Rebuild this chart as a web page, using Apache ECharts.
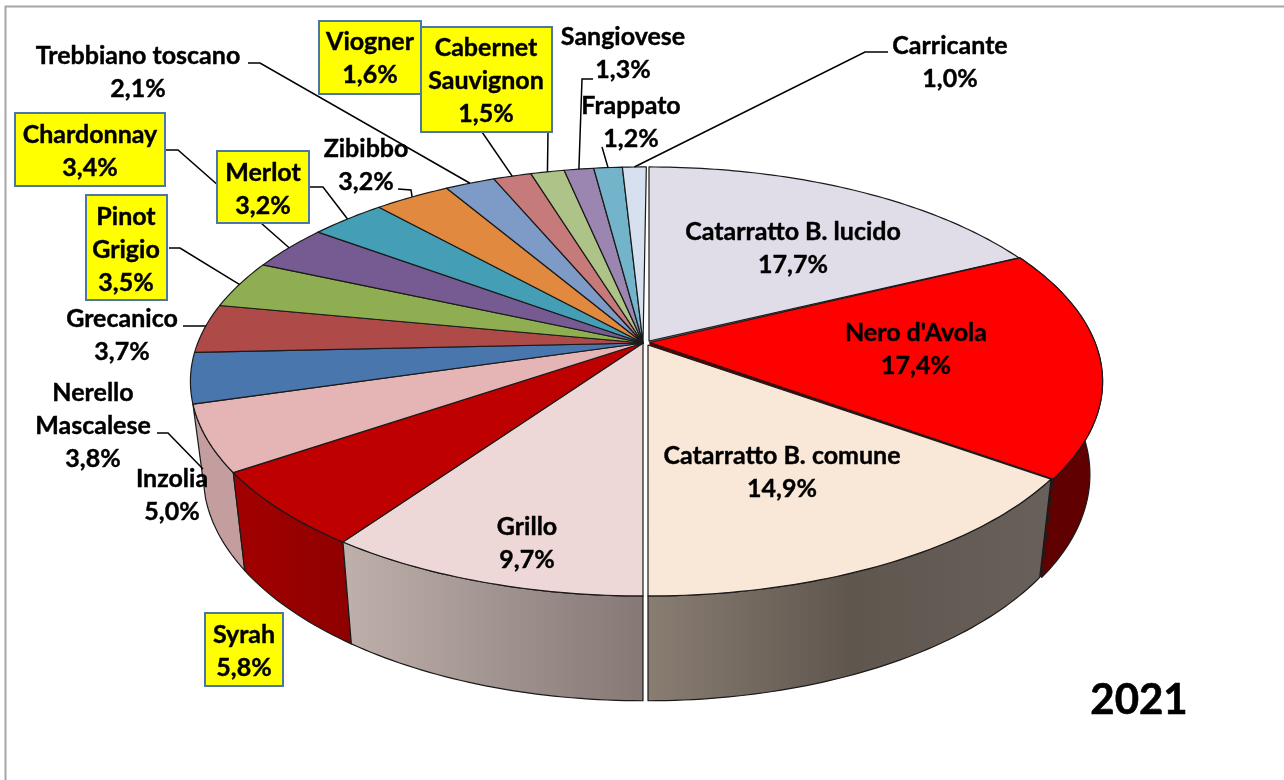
<!DOCTYPE html>
<html>
<head>
<meta charset="utf-8">
<title>Vitigni 2021</title>
<script src="https://cdn.jsdelivr.net/npm/echarts@6/dist/echarts.min.js"></script>
<style>
html, body { margin: 0; padding: 0; background: #fff; }
#chart { width: 1284px; height: 780px; }
</style>
</head>
<body>
<div id="chart"></div>
<script>
// chart data, clockwise from the top of the pie
const varieties = ['Catarratto B. lucido', "Nero d'Avola", 'Catarratto B. comune', 'Grillo', 'Syrah', 'Inzolia',
  'Nerello\nMascalese', 'Grecanico', 'Pinot\nGrigio', 'Chardonnay', 'Merlot', 'Zibibbo', 'Trebbiano toscano',
  'Viogner', 'Cabernet\nSauvignon', 'Sangiovese', 'Frappato', 'Carricante'];
const shares = [17.7, 17.4, 14.9, 9.7, 5.8, 5.0, 3.8, 3.7, 3.5, 3.4, 3.2, 3.2, 2.1, 1.6, 1.5, 1.3, 1.2, 1.0];
const yearLabel = '2021';

// styles
const sliceColors = ['#e0dce8', '#ff0000', '#f9e8d8', '#eed8d7', '#bf0000', '#e4b5b4', '#4a76ae', '#ae4a48', '#8fae52',
  '#765b93', '#449fb6', '#e18a3f', '#7e9bc7', '#c67a7a', '#aec387', '#9a86b1', '#73b4ca', '#d6e0ee'];
// only the slices at the front show their side, colours left to right
const wallColors = {
  1: ['#600000', '#600000'],
  2: ['#8a7e73', '#5f564e', '#68605a'],
  3: ['#bfb0ab', '#857875'],
  4: ['#a30000', '#8f0000'],
  5: ['#c49e9e', '#c49e9e']
};
const wallOrder = [1, 2, 5, 4, 3];
// coloured sliver seen in the gap after a slice
const gapColors = { 0: '#6b6b70', 1: '#5a0000' };
// the three big slices are pulled slightly away from the rest
const sliceApex = [[649, 341], [650, 342.5], [648, 345]];
const otherApex = [643, 343];
// small angle corrections (degrees) on the slice boundaries, the 3d view skews them
const boundaryShift = { 0: 0, 1: -0.5, 2: -0.9, 3: 0, 9: 0.9, 10: 1.0, 11: 1.0, 12: 1.0, 13: 1.0, 14: 1.0, 15: 0.7 };
const restShift = 0.5;

// label placement: c = centre x, y = first line centre, box = [x, y, w, h], leader = start points
const labelLayout = [
  { c: 793, y: 232 },
  { c: 916, y: 333 },
  { c: 782, y: 456 },
  { c: 527, y: 527 },
  { c: 244, y: 635, box: [205, 613, 78, 73] },
  { c: 172, y: 479 },
  { c: 93, y: 393, leader: [[157, 433], [168, 433]], end: [203, 469] },
  { c: 122, y: 319, leader: [[183, 326], [206, 326]], end: [206, 326] },
  { c: 126, y: 217, box: [86, 195, 81, 105], leader: [[169, 248], [180, 248]] },
  { c: 90, y: 135, box: [15, 113, 150, 73], leader: [[166, 150], [178, 150]] },
  { c: 263, y: 173, box: [217, 151, 92, 72], leader: [[310, 187], [323, 187]] },
  { c: 366, y: 149, leader: [[398, 189], [411, 190]] },
  { c: 138, y: 56, leader: [[248, 63], [260, 63]] },
  { c: 370, y: 42, box: [319, 21, 102, 73], leader: [[482, 132]] },
  { c: 486, y: 48, box: [421, 27, 131, 105], leader: [[548, 132]] },
  { c: 623, y: 37, leader: [[593, 79], [582, 79]] },
  { c: 631, y: 106, leader: [[602, 147]] },
  { c: 950, y: 46, leader: [[888, 52], [865, 52]] }
];

const fontFamily = 'Lato, "Noto Sans", sans-serif';
const fontSize = 25;
const lineGap = 33;

// perspective of the pie top
const radiusX = 446;
const radiusY = 208.3;
const tilt = 0.17;
const baseY = 345;

function project(angle, centreX) {
  const u = Math.sin(angle);
  const v = -Math.cos(angle);
  const d = 1 - tilt * v;
  return [centreX + radiusX * u / d, baseY + radiusY * v / d];
}

// where a point of the top sits on the bottom rim
function lower(p, centreX) {
  return [centreX + (p[0] - centreX) * 0.972, baseY + (p[1] - baseY) * 1.055 + 91];
}

function arcPoints(a0, a1, centreX) {
  const pts = [];
  const steps = Math.max(2, Math.ceil((a1 - a0) / (Math.PI / 180)));
  for (let k = 0; k <= steps; k++) {
    pts.push(project(a0 + (a1 - a0) * k / steps, centreX));
  }
  return pts;
}

const total = shares.reduce((a, b) => a + b, 0);
function boundary(i, cumulative) {
  const shift = boundaryShift[i] !== undefined ? boundaryShift[i] : restShift;
  return (cumulative / total * 360 + shift) * Math.PI / 180;
}
let running = 0;
const sliceAngles = shares.map((v, i) => {
  const a0 = boundary(i, running);
  running += v;
  return [a0, boundary(i + 1, running)];
});

function renderSlice(params, api) {
  const i = api.value(0);
  const children = [];
  const [a0, a1] = sliceAngles[i];
  const apex = sliceApex[i] || otherApex;
  const rim = arcPoints(a0, a1, apex[0]);
  const stroke = { stroke: '#1a1a1a', lineWidth: 1.2, lineJoin: 'round' };

  if (gapColors[i]) {
    const end = rim[rim.length - 1];
    children.push({
      type: 'polygon', z2: 1,
      shape: { points: [apex, end, lower(end, apex[0]), lower(apex, apex[0])] },
      style: { fill: gapColors[i] }
    });
  }
  if (wallColors[i]) {
    const cols = wallColors[i];
    children.push({
      type: 'polygon', z2: 5 + wallOrder.indexOf(i),
      shape: { points: rim.concat(rim.slice().reverse().map(p => lower(p, apex[0]))) },
      style: Object.assign({
        fill: {
          type: 'linear', x: 0, y: 0, x2: 1, y2: 0,
          colorStops: cols.map((c, n) => ({ offset: n / (cols.length - 1), color: c }))
        }
      }, stroke)
    });
  }
  children.push({
    type: 'polygon', z2: 20 + i,
    shape: { points: [apex].concat(rim) },
    style: Object.assign({ fill: sliceColors[i] }, stroke)
  });

  // label
  const lay = labelLayout[i];
  if (lay.leader) {
    const mid = project((a0 + a1) / 2, apex[0]);
    children.push({
      type: 'polyline', z2: 45,
      shape: { points: lay.leader.concat([lay.end || mid]) },
      style: { fill: null, stroke: '#000', lineWidth: 1.5 }
    });
  }
  if (lay.box) {
    children.push({
      type: 'rect', z2: 50,
      shape: { x: lay.box[0], y: lay.box[1], width: lay.box[2], height: lay.box[3] },
      style: { fill: '#ffff00', stroke: '#4a76a8', lineWidth: 2 }
    });
  }
  const lines = varieties[i].split('\n').concat([shares[i].toFixed(1).replace('.', ',') + '%']);
  lines.forEach((line, n) => {
    children.push({
      type: 'text', z2: 60,
      x: lay.c, y: lay.y + n * lineGap,
      style: {
        text: line, fill: '#000', align: 'center', verticalAlign: 'middle',
        stroke: '#000', lineWidth: 0.4,
        font: 'bold ' + fontSize + 'px ' + fontFamily
      }
    });
  });
  return { type: 'group', children: children };
}

const chart = echarts.init(document.getElementById('chart'), null, { renderer: 'canvas' });
chart.setOption({
  animation: false,
  backgroundColor: '#ffffff',
  graphic: [
    {
      type: 'polyline', silent: true,
      shape: { points: [[5.5, 780], [5.5, 6.5], [1284, 6.5]] },
      style: { fill: null, stroke: '#a6a6a6', lineWidth: 2 }
    },
    {
      type: 'text', silent: true, x: 1139, y: 700,
      style: {
        text: yearLabel, fill: '#000', align: 'center', verticalAlign: 'middle',
        stroke: '#000', lineWidth: 0.6,
        font: 'bold 42px ' + fontFamily
      }
    }
  ],
  series: [{
    type: 'custom',
    coordinateSystem: 'none',
    silent: true,
    renderItem: renderSlice,
    data: shares.map((v, i) => [i, v])
  }]
});
</script>
</body>
</html>
